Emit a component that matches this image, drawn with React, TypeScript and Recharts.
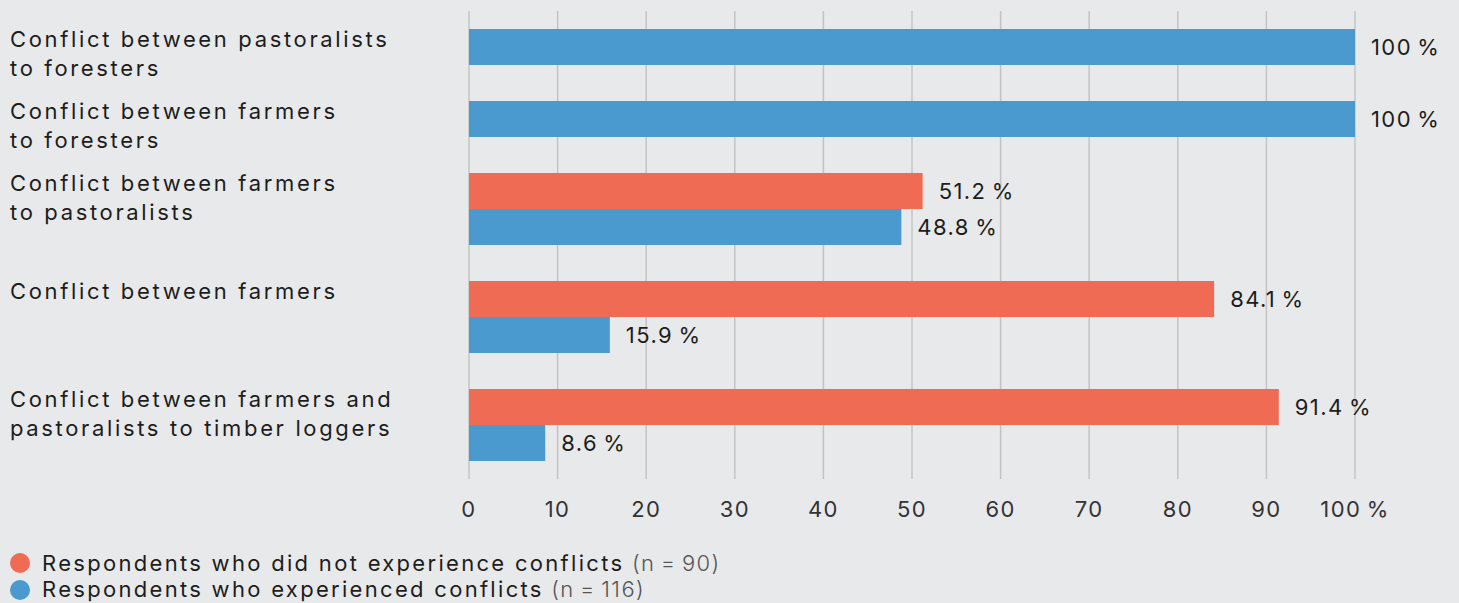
import React from "react";
import { BarChart, Bar, XAxis, YAxis, CartesianGrid, LabelList } from "recharts";

// Category labels (each entry = lines of the label)
const categories: string[][] = [
  ["Conflict between pastoralists", "to foresters"],
  ["Conflict between farmers", "to foresters"],
  ["Conflict between farmers", "to pastoralists"],
  ["Conflict between farmers"],
  ["Conflict between farmers and", "pastoralists to timber loggers"],
];

// Share of respondents (%) per category
const notExperienced: (number | null)[] = [null, null, 51.2, 84.1, 91.4];
const experienced: (number | null)[] = [100, 100, 48.8, 15.9, 8.6];

const xTicks = [0, 10, 20, 30, 40, 50, 60, 70, 80, 90, 100];

const seriesNames = [
  "Respondents who did not experience conflicts",
  "Respondents who experienced conflicts",
];
const sampleSizes = [90, 116];

const COLORS = { notExp: "#ef6b53", exp: "#4b9acf" };
const FONT = "Inter, 'Open Sans', sans-serif";
const TEXT = "#1d1d1b";
const BG = "#e8e9eb";
const FS = 22;
const LS_CAT = 2.65;
const LS_LEGEND = 2.3;
const LS_NUM = 1.4;

type Row = { slot: string; notExp?: number; exp?: number; label?: string[] };

// One band per bar, with an empty band between category groups
const rows: Row[] = [];
categories.forEach((lines, i) => {
  if (i > 0) rows.push({ slot: `gap${i}` });
  let first = true;
  const n = notExperienced[i];
  if (n != null) {
    rows.push({ slot: `n${i}`, notExp: n, label: lines });
    first = false;
  }
  const e = experienced[i];
  if (e != null) {
    rows.push({ slot: `e${i}`, exp: e, label: first ? lines : undefined });
  }
});

const pct = (v: any) => (v == null ? "" : `${v}\u2009%`);

const CategoryTick = (props: any) => {
  const { y, index } = props;
  const row = rows[index];
  if (!row || !row.label) return null;
  return (
    <text x={10} y={y} fill={TEXT} fontSize={FS} fontFamily={FONT} letterSpacing={LS_CAT}>
      {row.label.map((line, k) => (
        <tspan key={k} x={10} dy={k === 0 ? 0 : 29}>
          {line}
        </tspan>
      ))}
    </text>
  );
};

export default function App() {
  return (
    <div style={{ position: "relative", width: 1459, height: 603, background: BG, overflow: "hidden" }}>
      <style>{`body{margin:0;background:${BG}}`}</style>
      <BarChart
        width={1459}
        height={535}
        data={rows}
        layout="vertical"
        margin={{ top: 11, right: 104, bottom: 26, left: 0 }}
        barCategoryGap={0}
      >
        <CartesianGrid horizontal={false} stroke="#c4c4c4" strokeWidth={1.5} />
        <XAxis
          type="number"
          domain={[0, 100]}
          ticks={xTicks}
          interval={0}
          axisLine={false}
          tickLine={false}
          tickMargin={16}
          height={30}
          tickFormatter={(v: number) => (v === 100 ? "100\u2009%" : `${v}`)}
          tick={{ fill: "#333", fontSize: FS, fontFamily: FONT, letterSpacing: LS_NUM }}
        />
        <YAxis
          type="category"
          dataKey="slot"
          width={469}
          axisLine={false}
          tickLine={false}
          interval={0}
          padding={{ top: 18, bottom: 18 }}
          tick={<CategoryTick />}
        />
        <Bar dataKey="notExp" stackId="s" fill={COLORS.notExp} isAnimationActive={false}>
          <LabelList dataKey="notExp" position="right" offset={16} formatter={pct}
            fill={TEXT} fontSize={FS} fontFamily={FONT} letterSpacing={LS_NUM} />
        </Bar>
        <Bar dataKey="exp" stackId="s" fill={COLORS.exp} isAnimationActive={false}>
          <LabelList dataKey="exp" position="right" offset={16} formatter={pct}
            fill={TEXT} fontSize={FS} fontFamily={FONT} letterSpacing={LS_NUM} />
        </Bar>
      </BarChart>
      <svg width={1459} height={68} style={{ position: "absolute", left: 0, top: 535 }}>
        {seriesNames.map((name, i) => (
          <g key={name}>
            <circle cx={20} cy={28 + i * 27} r={10} fill={i === 0 ? COLORS.notExp : COLORS.exp} />
            <text x={42} y={35.7 + i * 26.3} fontSize={FS} fontFamily={FONT} fill={TEXT} letterSpacing={LS_LEGEND}>
              {name}
              <tspan fill="#555" fontWeight={300} letterSpacing={LS_NUM}>{` (n\u2009=\u2009${sampleSizes[i]})`}</tspan>
            </text>
          </g>
        ))}
      </svg>
    </div>
  );
}
